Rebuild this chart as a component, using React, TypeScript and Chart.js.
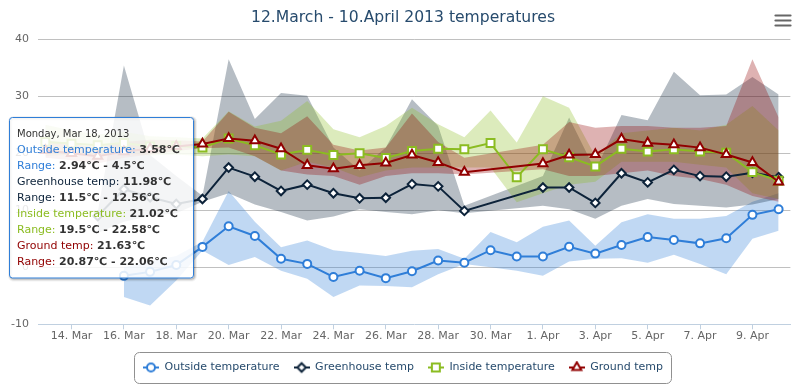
import React, { useEffect, useRef } from 'react';
import { Chart, registerables } from 'chart.js';
import { drawPoint } from 'chart.js/helpers';

Chart.register(...registerables);

// ---------- DATA ----------
const dates = [
  '2013-03-12', '2013-03-13', '2013-03-14', '2013-03-15', '2013-03-16', '2013-03-17', '2013-03-18',
  '2013-03-19', '2013-03-20', '2013-03-21', '2013-03-22', '2013-03-23', '2013-03-24', '2013-03-25',
  '2013-03-26', '2013-03-27', '2013-03-28', '2013-03-29', '2013-03-30', '2013-03-31', '2013-04-01',
  '2013-04-02', '2013-04-03', '2013-04-04', '2013-04-05', '2013-04-06', '2013-04-07', '2013-04-08',
  '2013-04-09',
];

const tickValues = [1, 3, 5, 7, 9, 11, 13, 15, 17, 19, 21, 23, 25, 27];
const tickLabels = ['14. Mar', '16. Mar', '18. Mar', '20. Mar', '22. Mar', '24. Mar', '26. Mar',
  '28. Mar', '30. Mar', '1. Apr', '3. Apr', '5. Apr', '7. Apr', '9. Apr'];

const seriesNames = ['Outside temperature', 'Greenhouse temp', 'Inside temperature', 'Ground temp'];

const outside = [null, null, null, -1.5, -0.8, 0.4, 3.58, 7.2, 5.5, 1.5, 0.6, -1.7, -0.6, -1.9, -0.7, 1.2, 0.8, 3.0, 1.9, 1.9, 3.6, 2.4, 3.9, 5.3, 4.8, 4.2, 5.1, 9.2, 10.2];
const outsideLow = [null, null, null, -5.2, -6.7, -2.3, 2.94, 0.4, 1.8, -0.6, -2.0, -5.2, -3.2, -3.3, -3.5, -1.2, 0.6, 0.0, -0.6, -1.5, 1.0, 1.5, 1.6, 0.8, 2.2, 0.6, -1.2, 5.0, 6.4];
const outsideHigh = [null, null, null, 0, 1.0, 2.0, 4.5, 13.4, 8.0, 3.5, 4.7, 3.0, 2.5, 2.0, 2.9, 3.2, 1.5, 6.2, 4.4, 7.1, 8.2, 3.8, 7.9, 9.3, 8.5, 8.5, 9.0, 11.5, 13.0];

const greenhouse = [null, null, 9.0, 13.7, 12.3, 11.1, 11.98, 17.5, 15.9, 13.4, 14.5, 13.0, 12.1, 12.2, 14.6, 14.2, 9.9, null, null, 14.0, 14.0, 11.3, 16.5, 14.9, 17.1, 16.0, 15.9, 16.6, 15.8];
const greenhouseLow = [null, null, 6.0, 8.0, 9.0, 9.5, 11.5, 13.0, 11.0, 9.7, 8.2, 8.9, 10.2, 9.7, 9.3, 10.0, 9.5, null, null, 10.8, 10.2, 8.5, 10.8, 12.0, 11.1, 10.8, 10.5, 11.0, 12.0];
const greenhouseHigh = [null, null, 9.7, 35.4, 19.7, 16.0, 12.56, 36.5, 26.0, 30.6, 30.1, 21.0, 17.0, 21.0, 29.5, 24.8, 10.8, null, null, 16.0, 26.3, 17.0, 26.7, 25.8, 34.3, 30.2, 30.3, 33.4, 30.3];

const inside = [22.0, 21.7, 21.4, 21.8, 21.2, 21.3, 21.02, 22.6, 21.4, 19.8, 20.6, 19.7, 20.0, 19.2, 20.4, 20.8, 20.7, 21.8, 15.8, 20.7, 19.3, 17.7, 20.8, 20.3, 20.7, 20.3, 20.1, 16.7, 15.2];
const insideLow = [19.5, 19.8, 19.7, 20.0, 19.6, 19.8, 19.5, 19.8, 19.5, 17.0, 18.5, 17.5, 15.8, 17.0, 17.5, 17.5, 17.5, 17.5, 11.4, 13.0, 14.5, 15.0, 18.5, 18.5, 18.5, 18.0, 17.5, 13.0, 12.0];
const insideHigh = [25.0, 24.0, 23.3, 23.8, 23.0, 22.8, 22.58, 27.4, 24.7, 25.7, 29.2, 24.2, 22.8, 24.8, 28.0, 25.1, 22.8, 27.5, 21.9, 30.0, 28.0, 19.5, 23.5, 24.0, 24.5, 24.0, 25.0, 28.3, 24.0];

const ground = [20.5, 20.0, 19.5, 20.3, 20.8, 21.2, 21.63, 22.6, 22.2, 20.8, 17.9, 17.3, 17.9, 18.3, 19.7, 18.4, 16.7, null, null, 18.2, 19.7, 19.8, 22.5, 21.8, 21.5, 21.0, 19.8, 18.4, 15.0];
const groundLow = [19.2, 18.8, 18.2, 19.2, 19.8, 20.4, 20.87, 21.0, 19.5, 17.0, 16.3, 16.0, 14.5, 16.0, 16.5, 16.5, 16.3, null, null, 17.2, 16.0, 16.0, 16.5, 17.0, 16.0, 15.5, 14.5, 12.5, 11.5];
const groundHigh = [22.3, 21.6, 21.0, 22.0, 22.4, 22.3, 22.06, 27.3, 24.5, 23.5, 26.5, 21.5, 20.5, 21.0, 27.0, 22.0, 19.2, null, null, 21.5, 25.5, 24.5, 24.8, 24.8, 24.5, 24.5, 24.8, 36.5, 26.3];

const tooltipIndex = 6;

// ---------- STYLE ----------
const FONT = '"DejaVu Sans", sans-serif';
const colors = ['#2f7ed8', '#0d233a', '#8bbc21', '#910000'];
const fills = ['rgba(47,126,216,0.3)', 'rgba(13,35,58,0.3)', 'rgba(139,188,33,0.3)', 'rgba(145,0,0,0.3)'];
const markerStyles = ['circle', 'rectRot', 'rect', 'triangle'];
const markerRadius = [4, 4.3, 5.6, 5.2];

const values = [outside, greenhouse, inside, ground];
const lows = [outsideLow, greenhouseLow, insideLow, groundLow];
const highs = [outsideHigh, greenhouseHigh, insideHigh, groundHigh];

const pts = (arr: (number | null)[]) =>
  arr.flatMap((y, i) => (y === null ? [] : [{ x: i, y }]));

const WEEKDAYS = ['Sunday', 'Monday', 'Tuesday', 'Wednesday', 'Thursday', 'Friday', 'Saturday'];
const MONTHS = ['Jan', 'Feb', 'Mar', 'Apr', 'May', 'Jun', 'Jul', 'Aug', 'Sep', 'Oct', 'Nov', 'Dec'];

function headerFor(i: number) {
  const d = new Date(dates[i] + 'T00:00:00Z');
  return `${WEEKDAYS[d.getUTCDay()]}, ${MONTHS[d.getUTCMonth()]} ${d.getUTCDate()}, ${d.getUTCFullYear()}`;
}

function makeSymbol(i: number) {
  const c = document.createElement('canvas');
  c.width = 16;
  c.height = 14;
  const g = c.getContext('2d')!;
  g.strokeStyle = colors[i];
  g.lineWidth = 2;
  g.beginPath();
  g.moveTo(0, 7);
  g.lineTo(16, 7);
  g.stroke();
  g.fillStyle = '#ffffff';
  g.strokeStyle = colors[i];
  g.lineWidth = 2;
  drawPoint(g as any, { pointStyle: markerStyles[i] as any, radius: markerRadius[i], borderWidth: 2, rotation: 0 } as any, 8, 7);
  return c;
}

const legendBoxPlugin = {
  id: 'legendBox',
  afterDraw(chart: any) {
    const hb = chart.legend && chart.legend.legendHitBoxes;
    if (!hb || !hb.length) return;
    const ctx = chart.ctx;
    const first = hb[0];
    const last = hb[hb.length - 1];
    const cy = first.top + first.height / 2;
    const x0 = Math.round(first.left - 9) + 0.5;
    const x1 = Math.round(last.left + last.width + 8) + 0.5;
    const y0 = Math.round(cy - 15.5) + 0.5;
    const y1 = Math.round(cy + 15.5) + 0.5;
    ctx.save();
    ctx.strokeStyle = '#909090';
    ctx.lineWidth = 1;
    ctx.beginPath();
    ctx.roundRect(x0, y0, x1 - x0, y1 - y0, 5);
    ctx.stroke();
    ctx.restore();
  },
};

const menuPlugin = {
  id: 'menuIcon',
  afterDraw(chart: any) {
    const ctx = chart.ctx;
    ctx.save();
    ctx.strokeStyle = '#666666';
    ctx.lineWidth = 2.2;
    ctx.lineCap = 'round';
    [15.5, 20.5, 25.5].forEach((y) => {
      ctx.beginPath();
      ctx.moveTo(775.5, y);
      ctx.lineTo(790.5, y);
      ctx.stroke();
    });
    ctx.restore();
  },
};

const tooltipPlugin = {
  id: 'staticTooltip',
  afterDraw(chart: any) {
    const ctx = chart.ctx;
    const i = tooltipIndex;
    const rows: { label: string; value: string; color: string }[] = [];
    for (let s = 0; s < 4; s++) {
      rows.push({ label: seriesNames[s] + ': ', value: `${values[s][i]}℃`, color: colors[s] });
      rows.push({ label: 'Range: ', value: `${lows[s][i]}℃ - ${highs[s][i]}℃`, color: colors[s] });
    }
    const left = 9.5, top = 117.5, w = 184, h = 160.5;
    ctx.save();
    for (let k = 1; k <= 3; k++) {
      ctx.beginPath();
      ctx.roundRect(left + 1, top + 1, w, h, 3);
      ctx.lineWidth = 7 - 2 * k;
      ctx.strokeStyle = `rgba(0,0,0,${0.05 * k})`;
      ctx.stroke();
    }
    ctx.beginPath();
    ctx.roundRect(left, top, w, h, 3);
    ctx.fillStyle = 'rgba(255,255,255,0.85)';
    ctx.fill();
    ctx.lineWidth = 1;
    ctx.strokeStyle = colors[0];
    ctx.stroke();

    ctx.textBaseline = 'middle';
    ctx.textAlign = 'left';
    ctx.font = `10px ${FONT}`;
    ctx.fillStyle = '#333333';
    ctx.fillText(headerFor(i), 17, 134.3);
    rows.forEach((r, k) => {
      const y = 150 + 15.95 * k;
      ctx.font = `11px ${FONT}`;
      ctx.fillStyle = r.color;
      ctx.fillText(r.label, 17, y);
      const lw = ctx.measureText(r.label).width;
      ctx.font = `bold 11px ${FONT}`;
      ctx.fillStyle = '#333333';
      ctx.fillText(r.value, 17 + lw, y);
    });
    ctx.restore();
  },
};

export default function App() {
  const ref = useRef<HTMLCanvasElement>(null);

  useEffect(() => {
    const canvas = ref.current;
    if (!canvas) return;
    Chart.defaults.font.family = FONT;
    Chart.defaults.font.size = 11;

    const symbols = [0, 1, 2, 3].map(makeSymbol);

    const lineOrder = [4, 3, 2, 1];
    const rangeOrder = [8, 7, 6, 5];

    const datasets: any[] = [];
    for (let s = 0; s < 4; s++) {
      datasets.push({
        type: 'line',
        label: seriesNames[s],
        data: pts(values[s]),
        borderColor: colors[s],
        backgroundColor: colors[s],
        borderWidth: 2,
        pointStyle: markerStyles[s],
        pointRadius: markerRadius[s],
        pointBorderWidth: 2,
        pointBackgroundColor: '#ffffff',
        pointBorderColor: colors[s],
        fill: false,
        tension: 0,
        order: lineOrder[s],
      });
    }
    for (let s = 0; s < 4; s++) {
      const lowIndex = datasets.length;
      datasets.push({
        type: 'line',
        label: seriesNames[s] + ' range low',
        data: pts(lows[s]),
        borderColor: 'rgba(0,0,0,0)',
        backgroundColor: 'rgba(0,0,0,0)',
        borderWidth: 0,
        pointRadius: 0,
        fill: false,
        tension: 0,
        order: rangeOrder[s],
      });
      datasets.push({
        type: 'line',
        label: seriesNames[s] + ' range',
        data: pts(highs[s]),
        borderColor: 'rgba(0,0,0,0)',
        backgroundColor: fills[s],
        borderWidth: 0,
        pointRadius: 0,
        fill: lowIndex,
        tension: 0,
        order: rangeOrder[s],
      });
    }

    const chart = new Chart(canvas, {
      type: 'line',
      data: { datasets },
      plugins: [legendBoxPlugin, menuPlugin, tooltipPlugin],
      options: {
        responsive: false,
        animation: false,
        events: [],
        devicePixelRatio: 1,
        layout: { padding: { left: 8, right: 0, top: 0, bottom: 3 } },
        scales: {
          x: {
            type: 'linear',
            min: -0.28,
            max: 28.45,
            afterBuildTicks: (scale: any) => {
              scale.ticks = tickValues.map((v) => ({ value: v }));
            },
            ticks: {
              autoSkip: false,
              maxRotation: 0,
              padding: 0,
              color: '#666666',
              font: { size: 11 },
              callback: (v: any) => {
                const k = tickValues.indexOf(Number(v));
                return k >= 0 ? tickLabels[k] : '';
              },
            },
            grid: {
              drawOnChartArea: false,
              drawTicks: true,
              tickLength: 5,
              color: '#C0D0E0',
            },
            border: { display: true, color: '#C0D0E0', width: 1 },
          },
          y: {
            type: 'linear',
            min: -10,
            max: 40,
            afterFit: (scale: any) => {
              scale.width = 30;
            },
            ticks: { stepSize: 10, padding: 9, color: '#666666', font: { size: 11 } },
            grid: {
              drawTicks: false,
              color: (c: any) => (c.tick && c.tick.value === -10 ? 'rgba(0,0,0,0)' : '#C0C0C0'),
            },
            border: { display: false },
          },
        },
        plugins: {
          filler: { drawTime: 'beforeDatasetsDraw' },
          tooltip: { enabled: false },
          title: {
            display: true,
            text: '12.March - 10.April 2013 temperatures',
            color: '#274b6d',
            font: { size: 15.6, weight: 'normal', family: FONT },
            padding: { top: 9, bottom: 11.6 },
          },
          legend: {
            display: true,
            position: 'bottom',
            title: {
              display: true,
              text: ' ',
              font: { size: 1, lineHeight: 1 },
              padding: { top: 4.5, bottom: 0 },
            },
            labels: {
              usePointStyle: true,
              pointStyleWidth: 16,
              boxHeight: 11,
              padding: 14,
              color: '#274b6d',
              font: { size: 11, family: FONT },
              generateLabels: () =>
                [0, 1, 2, 3].map((s) => ({
                  text: seriesNames[s],
                  pointStyle: symbols[s],
                  fillStyle: colors[s],
                  strokeStyle: colors[s],
                  lineWidth: 0,
                  hidden: false,
                  datasetIndex: s,
                  fontColor: '#274b6d',
                })),
            },
          },
        },
      } as any,
    });
    return () => chart.destroy();
  }, []);

  return (
    <div style={{ position: 'absolute', left: 0, top: 0, width: 798, height: 386 }}>
      <canvas ref={ref} width={798} height={386} style={{ display: 'block', width: 798, height: 386 }} />
    </div>
  );
}
